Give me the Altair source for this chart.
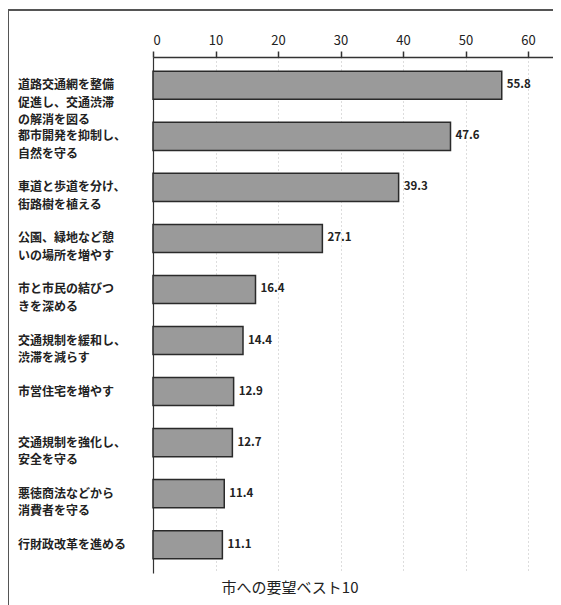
import altair as alt
import pandas as pd

labels = [
    "道路交通網を整備|促進し、交通渋滞|の解消を図る",
    "都市開発を抑制し、|自然を守る",
    "車道と歩道を分け、|街路樹を植える",
    "公園、緑地など憩|いの場所を増やす",
    "市と市民の結びつ|きを深める",
    "交通規制を緩和し、|渋滞を減らす",
    "市営住宅を増やす",
    "交通規制を強化し、|安全を守る",
    "悪徳商法などから|消費者を守る",
    "行財政改革を進める",
]
values = [55.8, 47.6, 39.3, 27.1, 16.4, 14.4, 12.9, 12.7, 11.4, 11.1]
value_text = ["55.8", "47.6", "39.3", "27.1", "16.4", "14.4", "12.9", "12.7", "11.4", "11.1"]
ticks = [0, 10, 20, 30, 40, 50, 60]
title_text = "市への要望ベスト10"

df = pd.DataFrame({"label": labels, "value": values, "vt": value_text})

FONT = "Noto Sans CJK JP"

y = alt.Y("label:N", sort=labels,
          scale=alt.Scale(paddingInner=0.45, paddingOuter=0.28),
          axis=alt.Axis(labels=False, ticks=False, title=None, domain=True,
                        domainColor="#333", domainWidth=1.2, grid=False))
x = alt.X("value:Q", scale=alt.Scale(domain=[0, 64], nice=False),
          axis=alt.Axis(orient="top", values=ticks, title=None, grid=True,
                        gridDash=[1, 3], gridColor="#bbbbbb", domainColor="#333",
                        domainWidth=1.5, tickColor="#333", tickSize=6, tickWidth=1.5,
                        labelFont=FONT, labelFontSize=13, labelColor="#222",
                        labelPadding=4))

base = alt.Chart(df)

bars = base.mark_bar(fill="#9a9a9a", stroke="#2a2a2a", strokeWidth=1.5).encode(x=x, y=y)

vals = base.mark_text(align="left", baseline="middle", dx=5, font=FONT,
                      fontSize=11.5, fontWeight="bold", color="#222").encode(
    x="value:Q", y=alt.Y("label:N", sort=labels), text="vt:N")

cats = base.mark_text(align="left", baseline="middle", lineBreak="|", font=FONT,
                      fontSize=12, lineHeight=17.5, fontWeight="bold", color="#222").encode(
    x=alt.value(-135), y=alt.Y("label:N", sort=labels), text="label:N")

tdf = pd.DataFrame({"t": [title_text]})
title = alt.Chart(tdf).mark_text(font=FONT, fontSize=15, color="#222",
                                 align="center", baseline="middle").encode(
    x=alt.value(137), y=alt.value(531), text="t:N")

frame_top = alt.Chart(tdf).mark_rule(color="#555", strokeWidth=2).encode(
    x=alt.value(-145), x2=alt.value(402), y=alt.value(-47))
frame_left = alt.Chart(tdf).mark_rule(color="#555", strokeWidth=2).encode(
    x=alt.value(-145), y=alt.value(-47), y2=alt.value(548))
frame_right = alt.Chart(tdf).mark_rule(color="#777", strokeWidth=1.5).encode(
    x=alt.value(402), y=alt.value(-47), y2=alt.value(548))

chart = alt.layer(bars, vals, cats, title, frame_top, frame_left, frame_right).properties(
    width=400, height=516,
    autosize=alt.AutoSizeParams(type="none"),
    padding={"left": 145, "top": 49, "right": 0, "bottom": 40},
).configure(background="white").configure_view(stroke=None)

chart.save("out.html", embed_options={"renderer": "svg", "actions": False})
